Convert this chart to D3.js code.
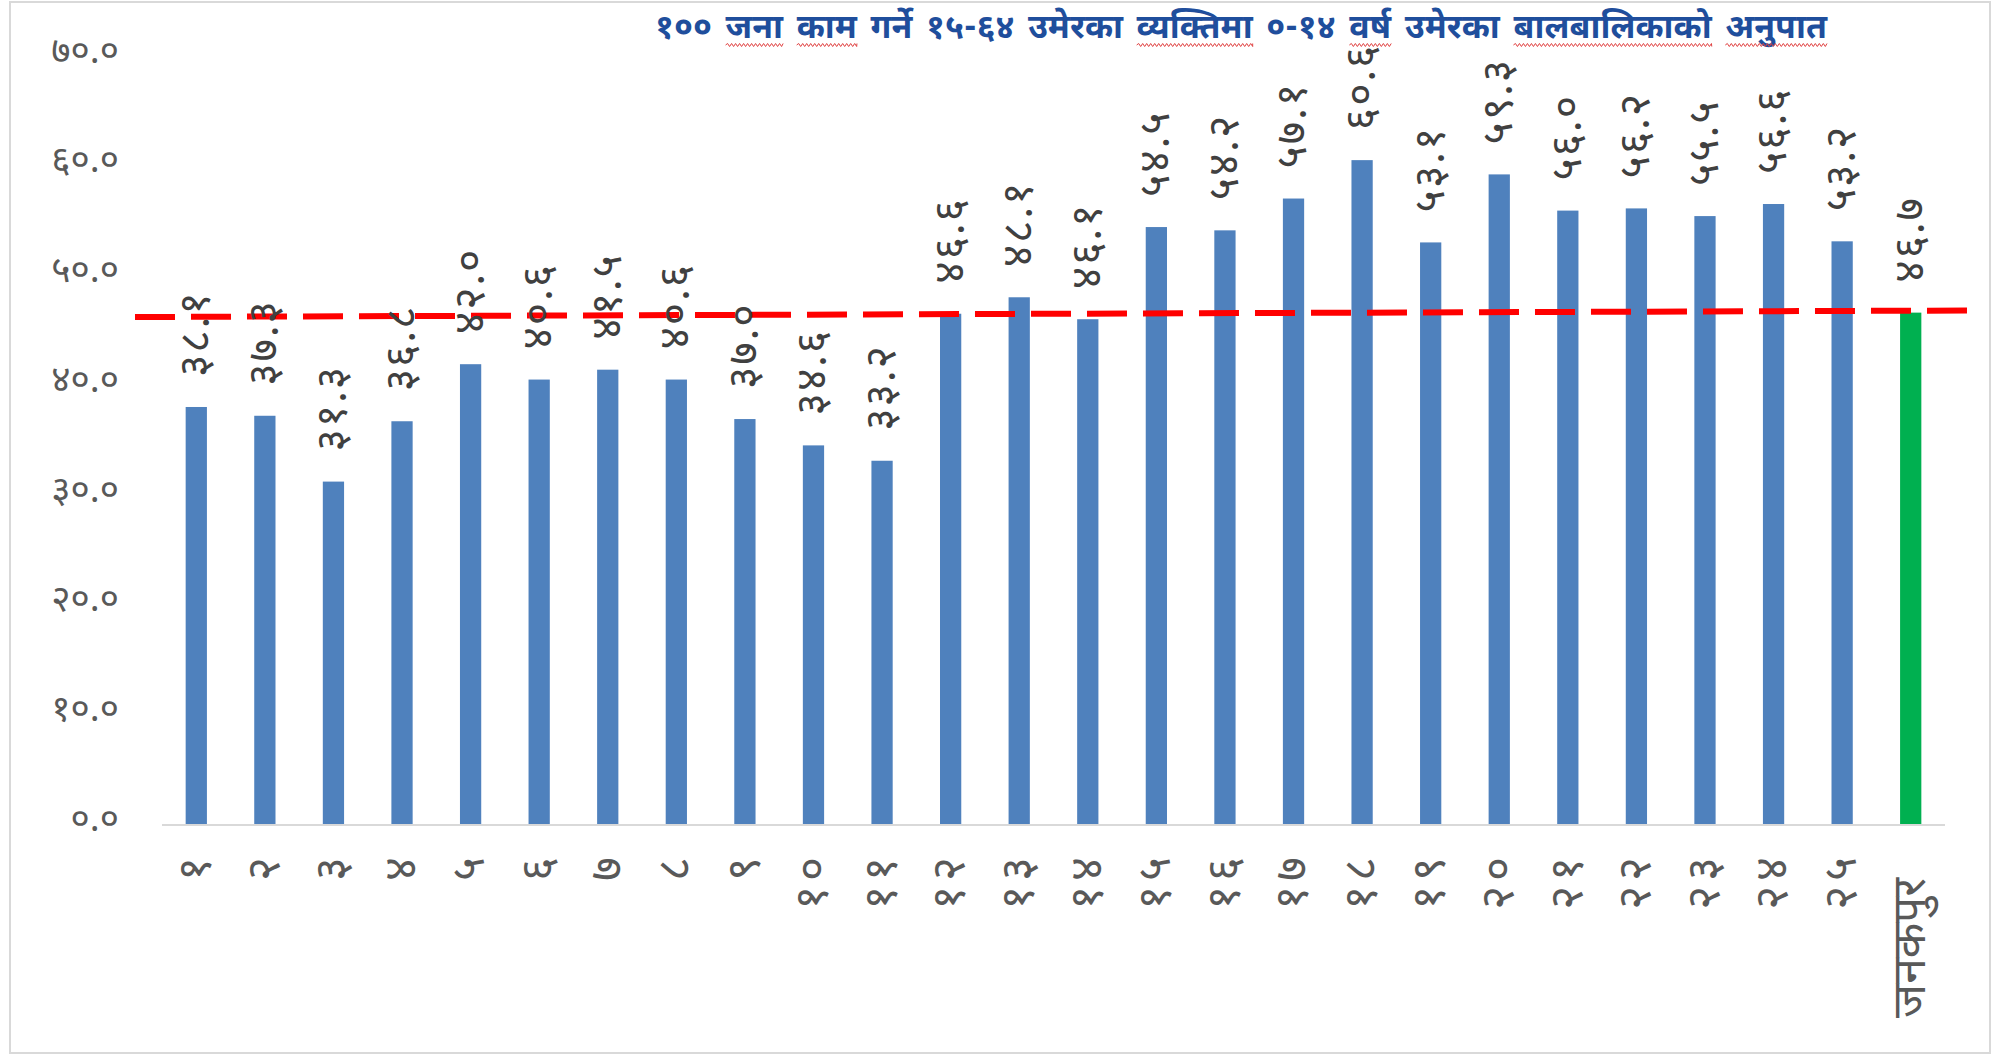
<!DOCTYPE html>
<html>
<head>
<meta charset="utf-8">
<script src="https://cdn.jsdelivr.net/npm/d3@7"></script>
<style>
  html, body { margin: 0; padding: 0; background: #fff; }
  svg { display: block; }
  text { font-family: "Noto Sans Devanagari", "Lohit Devanagari", "Mangal", "Noto Sans", sans-serif; }
</style>
</head>
<body>
<div id="chart"></div>
<script>
const width = 2001, height = 1056;

// categories (wards + municipality)
const categories = ["१", "२", "३", "४", "५", "६", "७", "८", "९", "१०", "११", "१२", "१३",
  "१४", "१५", "१६", "१७", "१८", "१९", "२०", "२१", "२२", "२३", "२४", "२५", "जनकपुर"];
const values = [38.1, 37.3, 31.3, 36.8, 42.0, 40.6, 41.5, 40.6, 37.0, 34.6, 33.2, 46.6, 48.1,
  46.1, 54.5, 54.2, 57.1, 60.6, 53.1, 59.3, 56.0, 56.2, 55.5, 56.6, 53.2, 46.7];
const yTicks = [0, 10, 20, 30, 40, 50, 60, 70];
// reference line (municipality average), slightly tilted as drawn
const refLine = [46.3, 46.9];

const titleWords = ["१००", "जना", "काम", "गर्ने", "१५-६४", "उमेरका", "व्यक्तिमा", "०-१४", "वर्ष", "उमेरका", "बालबालिकाको", "अनुपात"];
const misspelt = ["जना", "काम", "व्यक्तिमा", "वर्ष", "बालबालिकाको", "अनुपात"];

const devDigits = "०१२३४५६७८९";
const toDev = s => String(s).replace(/[0-9]/g, d => devDigits[+d]);
const fmt = v => toDev(v.toFixed(1));
const isNum = s => /^[०-९]+$/.test(s);

const svg = d3.select("#chart").append("svg")
    .attr("width", width)
    .attr("height", height);

// outer frame
svg.append("rect")
    .attr("x", 10).attr("y", 2)
    .attr("width", 1980).attr("height", 1051)
    .attr("fill", "#fff")
    .attr("stroke", "#d9d9d9")
    .attr("stroke-width", 2);

const x = d3.scaleBand()
    .domain(categories)
    .range([162, 1945])
    .paddingInner(0.69)
    .paddingOuter(0.345);

const y = d3.scaleLinear()
    .domain([0, 70])
    .range([825, 57]);

// y axis labels
svg.append("g")
    .attr("transform", "translate(119,0)")
    .call(d3.axisLeft(y).tickValues(yTicks).tickSize(0).tickPadding(0).tickFormat(fmt))
    .call(g => g.select(".domain").remove())
    .call(g => g.selectAll("text")
        .attr("fill", "#595959")
        .attr("font-size", 37)
        .attr("dy", "0.14em")
        .attr("font-family", null));

// bars
svg.selectAll("rect.bar")
    .data(values)
    .join("rect")
    .attr("class", "bar")
    .attr("x", (d, i) => x(categories[i]))
    .attr("width", x.bandwidth())
    .attr("y", d => y(d))
    .attr("height", d => y(0) - y(d))
    .attr("fill", (d, i) => i === values.length - 1 ? "#00B050" : "#4F81BD");

// x axis line
svg.append("line")
    .attr("x1", 162).attr("x2", 1945)
    .attr("y1", y(0)).attr("y2", y(0))
    .attr("stroke", "#d9d9d9")
    .attr("stroke-width", 2);

// x tick labels, rotated
svg.selectAll("text.xlab")
    .data(categories)
    .join("text")
    .attr("class", "xlab")
    .attr("transform", d => `translate(${x(d) + x.bandwidth() / 2},${isNum(d) ? 852 : 878}) rotate(-90)`)
    .attr("text-anchor", "end")
    .attr("dy", "0.3em")
    .attr("fill", "#595959")
    .attr("font-size", 46)
    .attr("letter-spacing", d => isNum(d) ? 5 : 0)
    .text(d => d);

// red dashed reference line
svg.append("line")
    .attr("x1", 135).attr("x2", 1980)
    .attr("y1", y(refLine[0])).attr("y2", y(refLine[1]))
    .attr("stroke", "#FF0000")
    .attr("stroke-width", 6)
    .attr("stroke-dasharray", "40,16");

// data labels
svg.selectAll("text.vlab")
    .data(values)
    .join("text")
    .attr("class", "vlab")
    .attr("transform", (d, i) => `translate(${x(categories[i]) + x.bandwidth() / 2},${y(d) - 30}) rotate(-90)`)
    .attr("text-anchor", "start")
    .attr("dy", "0.3em")
    .attr("fill", "#404040")
    .attr("font-size", 43)
    .attr("letter-spacing", 2)
    .text(fmt);

// title, word by word so the spell-check squiggles can sit under words
const title = svg.append("g");
const words = title.selectAll("text")
    .data(titleWords)
    .join("text")
    .attr("y", 38)
    .attr("fill", "#1F4E9C")
    .attr("font-weight", "bold")
    .attr("font-size", 30)
    .text(d => d);
let pos = 0;
const gap = 12;
const spans = [];
words.each(function(d) {
    const w = this.getComputedTextLength();
    spans.push({ word: d, x0: pos, x1: pos + w });
    pos += w + gap;
});
const total = pos - gap;
const k = (1827 - 655) / total;
title.attr("transform", `translate(655,0)`);
words.attr("x", (d, i) => spans[i].x0 * k).attr("font-size", 30 * k);

function squiggle(x0, x1, yy) {
    let p = `M${x0},${yy}`;
    for (let xx = x0, up = true; xx < x1; xx += 2, up = !up) {
        p += `L${Math.min(xx + 2, x1)},${yy + (up ? -1.5 : 1.5)}`;
    }
    return p;
}
title.selectAll("path")
    .data(spans.filter(s => misspelt.includes(s.word)))
    .join("path")
    .attr("d", s => squiggle(s.x0 * k, s.x1 * k, 45))
    .attr("fill", "none")
    .attr("stroke", "#E04040")
    .attr("stroke-width", 1);
</script>
</body>
</html>
